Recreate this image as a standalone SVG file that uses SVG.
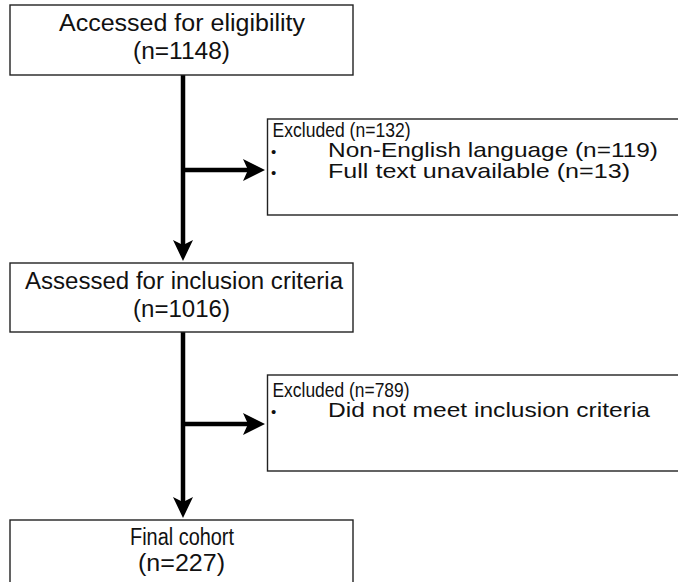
<svg xmlns="http://www.w3.org/2000/svg" width="678" height="582" viewBox="0 0 678 582">
<style>
.box{fill:#fff;stroke:#222;stroke-width:1.4}
.t{font-family:"Liberation Sans",Arial,Helvetica,sans-serif;fill:#111}
.c{font-size:23px;text-anchor:middle}
.l{font-size:21px}
.h{font-size:21px}
.b{font-size:15px}
.ln{stroke:#000;stroke-width:4.5;fill:none}
.ah{fill:#000}
</style>
<rect width="678" height="582" fill="#fff"/>
<g id="connectors">
<line class="ln" x1="183" y1="75" x2="183" y2="246"/>
<path class="ah" d="M183,261 L173,240 L183,245 L193,240 Z"/>
<line class="ln" x1="183" y1="170" x2="250" y2="170"/>
<path class="ah" d="M265,170 L243,159 L248,170 L243,181 Z"/>
<line class="ln" x1="183" y1="332" x2="183" y2="503"/>
<path class="ah" d="M183,518 L173,497 L183,502 L193,497 Z"/>
<line class="ln" x1="183" y1="424" x2="250" y2="424"/>
<path class="ah" d="M265,424 L243,413 L248,424 L243,435 Z"/>
</g>
<g id="node-eligibility">
<rect class="box" x="10" y="5" width="343" height="70"/>
<text class="t c" x="182" y="31" textLength="246" lengthAdjust="spacingAndGlyphs">Accessed for eligibility</text>
<text class="t c" x="181.5" y="59" textLength="97" lengthAdjust="spacingAndGlyphs">(n=1148)</text>
</g>
<g id="node-excluded1">
<rect class="box" x="267.5" y="119" width="420" height="96"/>
<text class="t h" x="272.5" y="136.5" textLength="138" lengthAdjust="spacingAndGlyphs">Excluded (n=132)</text>
<text class="t b" x="271" y="157">•</text>
<text class="t l" x="328" y="157" textLength="330" lengthAdjust="spacingAndGlyphs">Non-English language (n=119)</text>
<text class="t b" x="271" y="178">•</text>
<text class="t l" x="328" y="178" textLength="302" lengthAdjust="spacingAndGlyphs">Full text unavailable (n=13)</text>
</g>
<g id="node-inclusion">
<rect class="box" x="10" y="263" width="343" height="69"/>
<text class="t c" x="184" y="289" textLength="318" lengthAdjust="spacingAndGlyphs">Assessed for inclusion criteria</text>
<text class="t c" x="181.5" y="317" textLength="97" lengthAdjust="spacingAndGlyphs">(n=1016)</text>
</g>
<g id="node-excluded2">
<rect class="box" x="267.5" y="375" width="420" height="96"/>
<text class="t h" x="272.5" y="396.5" textLength="137" lengthAdjust="spacingAndGlyphs">Excluded (n=789)</text>
<text class="t b" x="271" y="417">•</text>
<text class="t l" x="328" y="417" textLength="322" lengthAdjust="spacingAndGlyphs">Did not meet inclusion criteria</text>
</g>
<g id="node-final">
<rect class="box" x="10" y="520" width="343" height="80"/>
<text class="t c" x="182" y="545" textLength="104" lengthAdjust="spacingAndGlyphs">Final cohort</text>
<text class="t c" x="181.5" y="571" textLength="87" lengthAdjust="spacingAndGlyphs">(n=227)</text>
</g>
</svg>
